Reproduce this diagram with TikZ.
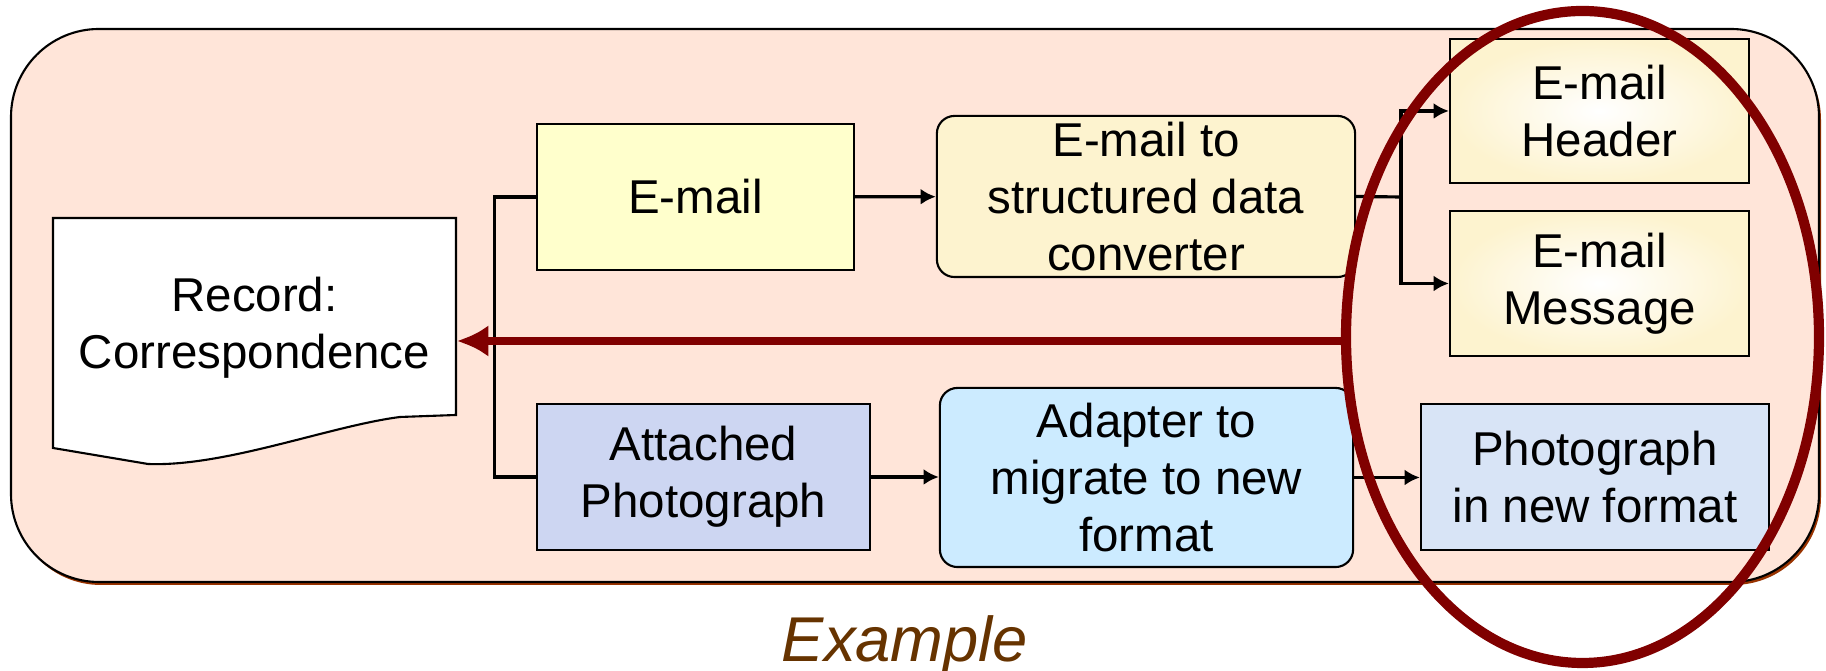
\documentclass[tikz,border=0pt]{standalone}
\usepackage{fontspec}
\setmainfont{Liberation Sans}
\usepackage{tikz}
\usetikzlibrary{arrows.meta}
\tikzset{>={Latex[length=4.3pt,width=4.5pt]}}
\definecolor{frame}{HTML}{FFE5D9}
\definecolor{frameshadow}{HTML}{993300}
\definecolor{mailyellow}{HTML}{FFFFCC}
\definecolor{cream}{HTML}{FDF3CF}
\definecolor{photoblue}{HTML}{CDD6F2}
\definecolor{newphotoblue}{HTML}{D8E4F6}
\definecolor{adapterblue}{HTML}{CCEBFF}
\definecolor{darkred}{HTML}{800000}
\definecolor{labelbrown}{HTML}{663300}
\newcommand{\boxfont}{\fontsize{13.5}{16.2}\selectfont}
\tikzset{
  box/.style = {draw, line width=0.6pt, inner sep=0pt, align=center, font=\boxfont},
  roundbox/.style = {box, rounded corners=5pt},
  link/.style = {line width=0.9pt},
  feedback/.style = {darkred, line width=2pt, -{Latex[length=9pt,width=9pt]}},
}

\begin{document}
\begin{tikzpicture}[x=0.01cm, y=-0.01cm]
		\useasboundingbox (0,0) rectangle (1826,671);

		% Frame
		\fill[frameshadow, rounded corners=25pt] (13,32) rectangle (1821,585);
		\draw[fill=frame, line width=0.6pt, rounded corners=25pt] (11,29) rectangle (1819,582);

		% Record (torn paper)
		\draw[fill=white, line width=0.6pt] (53,218) -- (456,218) -- (456,415) -- (400,417)
			.. controls (330,426) and (225,467) .. (148,464) -- (53,448) -- cycle;
		\node[font=\boxfont, align=center, inner sep=0pt, minimum width=4.03cm, minimum height=1.97cm] (record) at (254.5,328) {Record:\\Correspondence};

		% Components
		\node[box, fill=mailyellow, minimum width=3.17cm, minimum height=1.46cm] (email) at (695.5,197) {E-mail};
		\node[box, fill=photoblue, minimum width=3.33cm, minimum height=1.46cm] (attached) at (703.5,477) {Attached\\Photograph};
		\node[roundbox, fill=cream, minimum width=4.18cm, minimum height=1.61cm] (converter) at (1146,196.5) {E-mail to\\structured data\\converter};
		\node[roundbox, fill=adapterblue, minimum width=4.13cm, minimum height=1.79cm] (adapter) at (1146.5,477.5) {Adapter to\\migrate to new\\format};
		\node[box, shade, inner color=white, outer color=cream, minimum width=2.99cm, minimum height=1.44cm] (header) at (1599.5,111) {E-mail\\Header};
		\node[box, shade, inner color=white, outer color=cream, minimum width=2.99cm, minimum height=1.45cm] (message) at (1599.5,283.5) {E-mail\\Message};
		\node[box, fill=newphotoblue, minimum width=3.48cm, minimum height=1.46cm] (newphoto) at (1595,477) {Photograph\\in new format};

		% Links
		\draw[link] (email.west) -- ++(-41,0) |- (attached.west);
		\draw[link, ->] (email) -- (converter);
		\draw[link, ->] (attached.east) -- (adapter.west |- attached.east);
		\draw[link, ->] (adapter.east) -- (newphoto.west |- adapter.east);
		%
		\coordinate (split) at (1401,197);
		\draw[link] (converter.east) -- (split);
		\draw[link, ->] (split) |- (header.west);
		\draw[link, ->] (split) |- (message.west);

		% Back to the record
		\coordinate (back) at (1341,341);
		\draw[feedback] (back) -- (back -| record.east);

		% Highlight
		\draw[darkred, line width=2.9pt] (1582.5,337) ellipse [x radius=236.5, y radius=326];

		% Caption
		\node[anchor=base, text=labelbrown, font=\fontsize{18}{20}\selectfont\itshape] (caption) at (905,662) {Example};
	\end{tikzpicture}
\end{document}
